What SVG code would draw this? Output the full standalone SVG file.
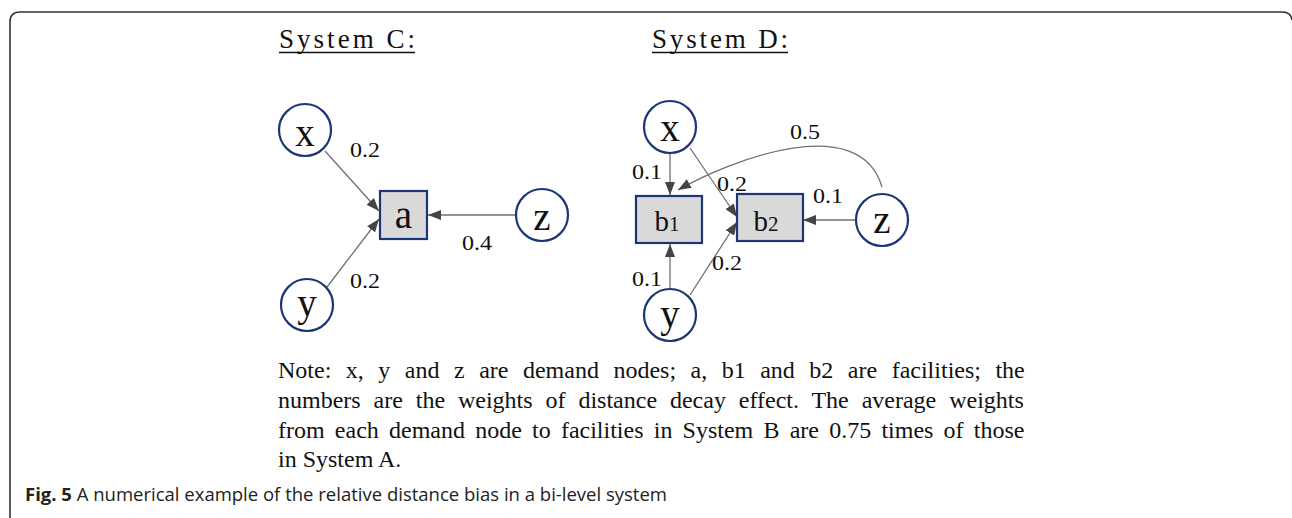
<svg xmlns="http://www.w3.org/2000/svg" width="1292" height="518" viewBox="0 0 1292 518">
<style>
.frame{fill:none;stroke:#333;stroke-width:1.6}
.title{font-family:"Liberation Serif",serif;font-size:27px;fill:#111}
.ul{stroke:#111;stroke-width:1.3}
.dn{fill:#fff;stroke:#1b3577;stroke-width:2.2}
.fac{fill:#d9d9d9;stroke:#1b3577;stroke-width:2.2}
.nl{font-family:"Liberation Serif",serif;font-size:39px;fill:#111;text-anchor:middle}
.fl{font-family:"Liberation Serif",serif;font-size:29px;fill:#111;text-anchor:middle}
.lbl{font-family:"Liberation Serif",serif;font-size:20px;fill:#111}
.edge{fill:none;stroke:#707070;stroke-width:1.3;marker-end:url(#ah)}
.note{font-family:"Liberation Serif",serif;font-size:24px;fill:#111}
.cap{font-family:"Open Sans",sans-serif;font-size:18px;fill:#222}
</style>
<defs>
<marker id="ah" markerUnits="userSpaceOnUse" markerWidth="13" markerHeight="10" refX="13" refY="5" orient="auto">
<path d="M0,0 L13,5 L0,10 z" fill="#444"/>
</marker>
</defs>
<rect width="1292" height="518" fill="#fff"/>
<path class="frame" d="M10,518 V22 Q10,12 20,12 H1282 Q1291,12 1292,20"/>

<g id="titles">
<text class="title" x="279" y="48" textLength="136" lengthAdjust="spacing">System C:</text>
<line class="ul" x1="279" y1="52.5" x2="415" y2="52.5"/>
<text class="title" x="652" y="48" textLength="136" lengthAdjust="spacing">System D:</text>
<line class="ul" x1="652" y1="52.5" x2="788" y2="52.5"/>
</g>

<g id="connectors">
<path class="edge" d="M325,151 L379,211"/>
<path class="edge" d="M327,287 L379,219"/>
<path class="edge" d="M515,215 L428,215"/>
<path class="edge" d="M670,152 L670,195"/>
<path class="edge" d="M670,288 L670,244"/>
<path class="edge" d="M690,148 L737,217"/>
<path class="edge" d="M690,295 L737,222"/>
<path class="edge" d="M855,220 L803,220"/>
<path class="edge" d="M882,187 C860,110 730,160 678,190"/>
</g>

<g id="edge-labels">
<text class="lbl" x="350" y="157" textLength="30" lengthAdjust="spacingAndGlyphs">0.2</text>
<text class="lbl" x="462" y="250" textLength="30" lengthAdjust="spacingAndGlyphs">0.4</text>
<text class="lbl" x="350" y="288" textLength="30" lengthAdjust="spacingAndGlyphs">0.2</text>
<text class="lbl" x="790" y="139" textLength="30" lengthAdjust="spacingAndGlyphs">0.5</text>
<text class="lbl" x="632" y="179" textLength="30" lengthAdjust="spacingAndGlyphs">0.1</text>
<text class="lbl" x="717" y="191" textLength="30" lengthAdjust="spacingAndGlyphs">0.2</text>
<text class="lbl" x="813" y="203" textLength="30" lengthAdjust="spacingAndGlyphs">0.1</text>
<text class="lbl" x="712" y="270" textLength="30" lengthAdjust="spacingAndGlyphs">0.2</text>
<text class="lbl" x="632" y="286" textLength="30" lengthAdjust="spacingAndGlyphs">0.1</text>
</g>

<g id="C-x"><circle class="dn" cx="305" cy="130" r="26"/><text class="nl" x="305" y="146">x</text></g>
<g id="C-y"><circle class="dn" cx="307" cy="305" r="26"/><text class="nl" x="307" y="316">y</text></g>
<g id="C-z"><circle class="dn" cx="542" cy="215" r="26"/><text class="nl" x="542" y="230">z</text></g>
<g id="C-a"><rect class="fac" x="380" y="191" width="47" height="48"/><text class="nl" x="403.5" y="228">a</text></g>

<g id="D-x"><circle class="dn" cx="670" cy="127" r="26"/><text class="nl" x="670" y="141">x</text></g>
<g id="D-y"><circle class="dn" cx="670" cy="315" r="26"/><text class="nl" x="670" y="327">y</text></g>
<g id="D-z"><circle class="dn" cx="882" cy="220" r="26"/><text class="nl" x="882" y="233">z</text></g>
<g id="D-b1"><rect class="fac" x="636" y="196" width="66" height="47"/><text class="fl" x="667" y="231">b<tspan font-size="21">1</tspan></text></g>
<g id="D-b2"><rect class="fac" x="737" y="194" width="66" height="47"/><text class="fl" x="766" y="231">b<tspan font-size="21">2</tspan></text></g>

<g id="note">
<text class="note" x="278" y="378" word-spacing="8.5">Note: x, y and z are demand nodes; a, b1 and b2 are facilities; the</text>
<text class="note" x="278" y="408" word-spacing="6.9">numbers are the weights of distance decay effect. The average weights</text>
<text class="note" x="278" y="437.5" word-spacing="4.2">from each demand node to facilities in System B are 0.75 times of those</text>
<text class="note" x="278" y="466.5">in System A.</text>
</g>

<g id="caption">
<text class="cap" x="25" y="501" textLength="642" lengthAdjust="spacingAndGlyphs"><tspan font-weight="bold">Fig. 5</tspan> A numerical example of the relative distance bias in a bi-level system</text>
</g>
</svg>
